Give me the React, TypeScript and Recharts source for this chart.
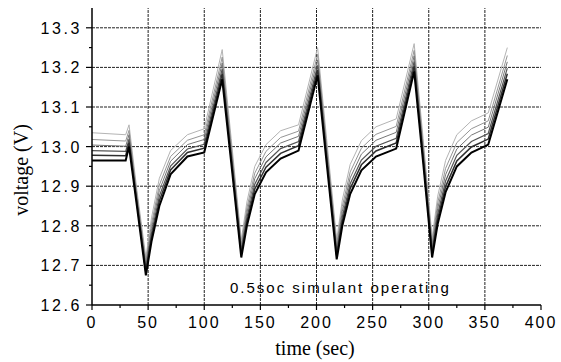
import React from "react"
import { LineChart, Line, XAxis, YAxis, ReferenceLine } from "recharts"

// time axis (sec) shared by every trace
const time = [0, 30, 33, 40, 48, 53, 60, 70, 85, 100, 116, 124, 133, 138, 145, 155, 168, 184, 201, 209, 218, 223, 230, 240, 253, 271, 287, 295, 303, 308, 315, 325, 338, 353, 370]

// voltage traces, top (light) to bottom (dark)
const s1 = [13.035, 13.03, 13.055, 12.89, 12.72, 12.82, 12.92, 12.99, 13.03, 13.045, 13.245, 13.02, 12.765, 12.86, 12.95, 13.005, 13.04, 13.055, 13.25, 13.02, 12.765, 12.865, 12.955, 13.015, 13.05, 13.07, 13.26, 13.02, 12.77, 12.875, 12.965, 13.03, 13.065, 13.085, 13.25]
const s2 = [13.018, 13.014, 13.041, 12.88, 12.709, 12.805, 12.903, 12.975, 13.016, 13.03, 13.226, 13.005, 12.754, 12.845, 12.933, 12.988, 13.023, 13.039, 13.233, 13.005, 12.753, 12.849, 12.936, 12.996, 13.031, 13.051, 13.243, 13.005, 12.758, 12.858, 12.945, 13.01, 13.045, 13.065, 13.23]
const s3 = [13.004, 13.001, 13.03, 12.872, 12.7, 12.793, 12.889, 12.963, 13.005, 13.018, 13.211, 12.993, 12.745, 12.833, 12.919, 12.974, 13.009, 13.026, 13.219, 12.993, 12.743, 12.836, 12.921, 12.981, 13.016, 13.036, 13.229, 12.993, 12.748, 12.844, 12.929, 12.994, 13.029, 13.049, 13.214]
const s4 = [12.99, 12.988, 13.019, 12.864, 12.691, 12.781, 12.875, 12.951, 12.994, 13.006, 13.196, 12.981, 12.736, 12.821, 12.905, 12.96, 12.995, 13.013, 13.205, 12.981, 12.733, 12.823, 12.906, 12.966, 13.001, 13.021, 13.215, 12.981, 12.738, 12.83, 12.913, 12.978, 13.013, 13.033, 13.198]
const s5 = [12.978, 12.977, 13.01, 12.857, 12.683, 12.771, 12.863, 12.941, 12.985, 12.996, 13.184, 12.971, 12.728, 12.811, 12.893, 12.948, 12.983, 13.002, 13.193, 12.971, 12.724, 12.812, 12.894, 12.954, 12.989, 13.009, 13.203, 12.971, 12.729, 12.818, 12.899, 12.964, 12.999, 13.019, 13.184]
const s6 = [12.965, 12.965, 13.0, 12.85, 12.675, 12.76, 12.85, 12.93, 12.975, 12.985, 13.17, 12.96, 12.72, 12.8, 12.88, 12.935, 12.97, 12.99, 13.18, 12.96, 12.715, 12.8, 12.88, 12.94, 12.975, 12.995, 13.19, 12.96, 12.72, 12.805, 12.885, 12.95, 12.985, 13.005, 13.17]

const xTicks = [0, 25, 50, 75, 100, 125, 150, 175, 200, 225, 250, 275, 300, 325, 350, 375, 400]
const xGrid = [50, 100, 150, 200, 250, 300, 350]
const yTicks = [12.6, 12.65, 12.7, 12.75, 12.8, 12.85, 12.9, 12.95, 13.0, 13.05, 13.1, 13.15, 13.2, 13.25, 13.3]
const yGrid = [12.7, 12.8, 12.9, 13.0, 13.1, 13.2, 13.3]

const series = [
  { key: "s1", values: s1, color: "#b4b4b4", width: 1 },
  { key: "s2", values: s2, color: "#959595", width: 1 },
  { key: "s3", values: s3, color: "#767676", width: 1 },
  { key: "s4", values: s4, color: "#555555", width: 1.2 },
  { key: "s5", values: s5, color: "#2e2e2e", width: 1.5 },
  { key: "s6", values: s6, color: "#000000", width: 2 },
]

const data = time.map((t, i) => {
  const row: Record<string, number> = { t }
  series.forEach((s) => (row[s.key] = s.values[i]))
  return row
})

const sans = "'Liberation Sans', Arial, sans-serif"
const serif = "'Liberation Serif', 'Times New Roman', serif"

function XTick({ x, y, payload }: any) {
  const major = payload.value % 50 === 0
  return (
    <g>
      <line x1={x} x2={x} y1={y} y2={y + (major ? 5 : 3)} stroke="#000" strokeWidth={1.2} />
      {major && (
        <text x={x} y={y + 23} textAnchor="middle" fontSize={16} letterSpacing={2} fontFamily={sans} fill="#000">
          {payload.value}
        </text>
      )}
    </g>
  )
}

function YTick({ x, y, payload }: any) {
  const major = Math.round(payload.value * 100) % 10 === 0
  return (
    <g>
      <line x1={x - (major ? 6 : 3)} x2={x} y1={y} y2={y} stroke="#000" strokeWidth={1.2} />
      {major && (
        <text x={x - 10} y={y + 6} textAnchor="end" fontSize={16} letterSpacing={2.6} fontFamily={sans} fill="#000">
          {payload.value.toFixed(1)}
        </text>
      )}
    </g>
  )
}

export default function App() {
  return (
    <div style={{ position: "absolute", left: 0, top: 0, width: 561, height: 362, background: "#fff" }}>
      <LineChart width={561} height={362} data={data} margin={{ top: 8, right: 20, bottom: 0, left: 0 }}>
        <XAxis
          dataKey="t"
          type="number"
          domain={[0, 400]}
          ticks={xTicks}
          interval={0}
          tick={<XTick />}
          tickLine={false}
          tickSize={0}
          tickMargin={0}
          height={57}
          axisLine={{ stroke: "#000", strokeWidth: 1.5 }}
        />
        <XAxis
          xAxisId="top"
          orientation="top"
          type="number"
          domain={[0, 400]}
          tick={false}
          tickLine={false}
          height={0}
          axisLine={{ stroke: "#000", strokeWidth: 1.5 }}
        />
        <YAxis
          type="number"
          domain={[12.6, 13.35]}
          ticks={yTicks}
          interval={0}
          tick={<YTick />}
          tickLine={false}
          tickSize={0}
          tickMargin={0}
          width={92}
          axisLine={{ stroke: "#000", strokeWidth: 1.5 }}
        />
        <YAxis
          yAxisId="right"
          orientation="right"
          type="number"
          domain={[12.6, 13.35]}
          tick={false}
          tickLine={false}
          width={0}
          axisLine={{ stroke: "#000", strokeWidth: 1.5 }}
        />
        {yGrid.map((v) => (
          <ReferenceLine key={"y" + v} y={v} stroke="#222" strokeWidth={1} strokeDasharray="3 1" />
        ))}
        {xGrid.map((v) => (
          <ReferenceLine key={"x" + v} x={v} stroke="#222" strokeWidth={1} strokeDasharray="3 1" />
        ))}
        {series.map((s) => (
          <Line
            key={s.key}
            type="linear"
            dataKey={s.key}
            stroke={s.color}
            strokeWidth={s.width}
            dot={false}
            isAnimationActive={false}
          />
        ))}
      </LineChart>
      <svg width={561} height={362} style={{ position: "absolute", left: 0, top: 0, pointerEvents: "none" }}>
        <text transform="translate(28,170) rotate(-90)" textAnchor="middle" fontSize={20} fontFamily={serif} fill="#000">
          voltage (V)
        </text>
        <text x={315} y={355} textAnchor="middle" fontSize={20} fontFamily={serif} fill="#000">
          time (sec)
        </text>
        <text x={230} y={293} fontSize={15} letterSpacing={2} fontFamily={sans} fill="#000">
          0.5soc simulant operating
        </text>
      </svg>
    </div>
  )
}
